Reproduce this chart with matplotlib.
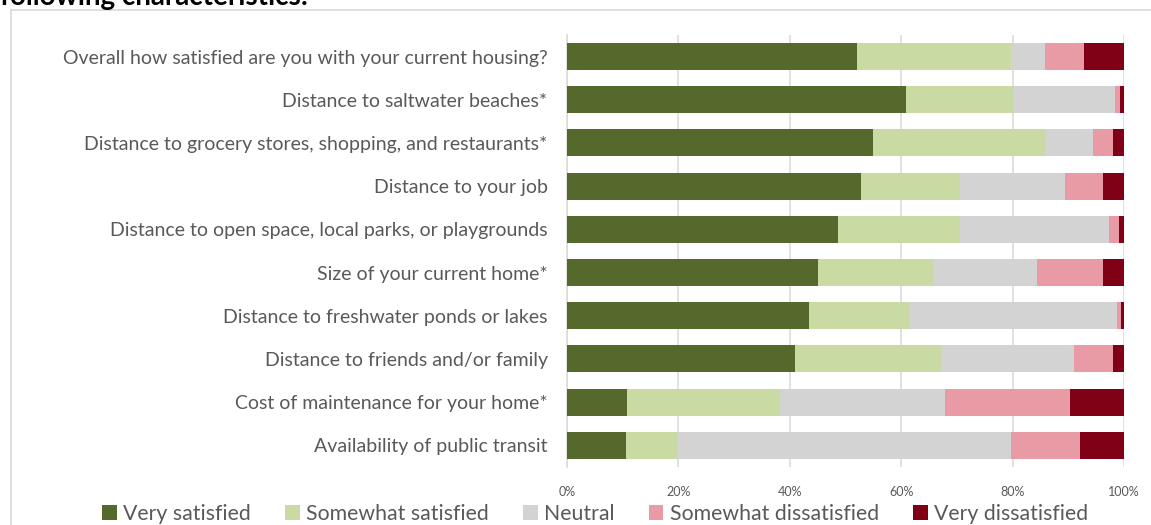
import numpy as np
import matplotlib.pyplot as plt
from matplotlib.patches import Patch

plt.rcParams['font.family'] = ['Lato', 'DejaVu Sans']

## Data (percent of respondents), top row first
questions = ['Overall how satisfied are you with your current housing?',
             'Distance to saltwater beaches*',
             'Distance to grocery stores, shopping, and restaurants*',
             'Distance to your job',
             'Distance to open space, local parks, or playgrounds',
             'Size of your current home*',
             'Distance to freshwater ponds or lakes',
             'Distance to friends and/or family',
             'Cost of maintenance for your home*',
             'Availability of public transit']

very_sat = [52.0, 60.9, 55.0, 52.7, 48.7, 45.1, 43.4, 40.9, 10.8, 10.6]
some_sat = [27.7, 19.4, 31.0, 17.8, 21.8, 20.8, 18.1, 26.5, 27.4, 9.4]
neutral = [6.2, 18.1, 8.4, 18.9, 26.8, 18.4, 37.2, 23.6, 29.6, 59.7]
some_dis = [6.9, 0.9, 3.6, 6.9, 1.9, 12.0, 0.7, 7.0, 22.6, 12.4]
very_dis = [7.2, 0.7, 2.0, 3.7, 0.8, 3.7, 0.6, 2.0, 9.6, 7.9]

series_names = ['Very satisfied', 'Somewhat satisfied', 'Neutral',
                'Somewhat dissatisfied', 'Very dissatisfied']
colors = ['#56692c', '#c9daa3', '#d3d3d3', '#e89aa5', '#800016']
ticks = [0, 20, 40, 60, 80, 100]

txt = '#595959'

fig = plt.figure(figsize=(11.51, 5.25), dpi=100)
ax = fig.add_axes([0.4926, 0.1105, 0.4839, 0.8229])

y = np.arange(len(questions))
left = np.zeros(len(questions))
for vals, c in zip([very_sat, some_sat, neutral, some_dis, very_dis], colors):
    ax.barh(y, vals, left=left, height=0.625, color=c, zorder=3)
    left = left + np.array(vals)

ax.set_ylim(len(questions) - 0.5, -0.5)
ax.set_xlim(0, 100)
ax.set_yticks(y)
ax.set_yticklabels(questions, fontsize=14, color=txt)
ax.set_xticks(ticks)
ax.set_xticklabels([str(t) + '%' for t in ticks], fontsize=9, color=txt)
ax.tick_params(axis='both', length=0)
ax.tick_params(axis='y', pad=14)
ax.tick_params(axis='x', pad=14)
ax.grid(axis='x', color='#d9d9d9', linewidth=1.1, zorder=0)
for s in ['top', 'right', 'bottom']:
    ax.spines[s].set_visible(False)
ax.spines['left'].set_color('#d9d9d9')
ax.spines['left'].set_linewidth(1.1)

handles = [Patch(facecolor=c, label=n) for c, n in zip(colors, series_names)]
fig.legend(handles=handles, loc='center', bbox_to_anchor=(0.517, 0.021), ncol=5,
           frameon=False, fontsize=15.3, labelcolor=txt, handlelength=0.7, handleheight=0.7,
           handletextpad=0.3, columnspacing=1.6)

# outer frame of the chart area
fig.add_artist(plt.Line2D([0.0095, 1.0], [0.981, 0.981], color='#d9d9d9', linewidth=1.2,
                          transform=fig.transFigure))
fig.add_artist(plt.Line2D([0.0095, 0.0095], [0.0, 0.981], color='#d9d9d9', linewidth=1.2,
                          transform=fig.transFigure))

# clipped heading from the page above
fig.text(0.0, 0.9905, 'following characteristics:', fontsize=20, fontweight='bold',
         color='black', va='baseline', ha='left')

plt.savefig('out.png', dpi=100)
